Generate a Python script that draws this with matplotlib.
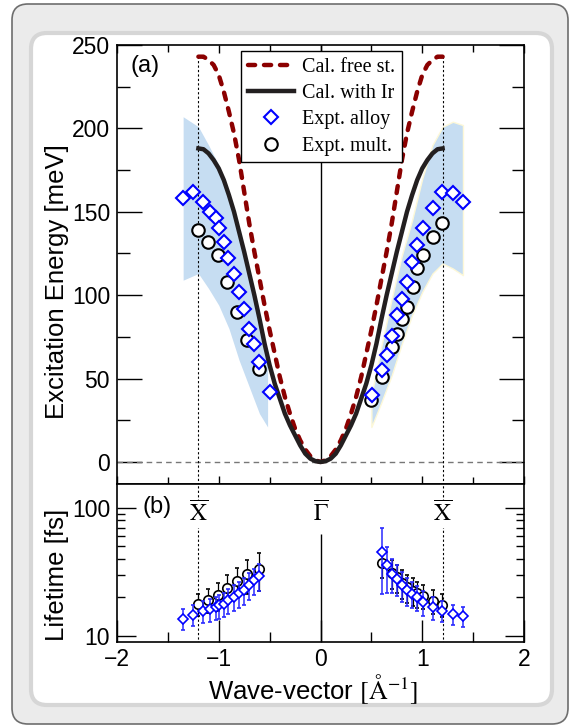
import matplotlib
matplotlib.use("Agg")
import matplotlib.pyplot as plt
from matplotlib.patches import FancyBboxPatch
from matplotlib.ticker import MultipleLocator, FixedLocator, NullFormatter, FormatStrFormatter

plt.rcParams['font.family'] = ['Liberation Sans', 'DejaVu Sans']
plt.rcParams['mathtext.fontset'] = 'stix'

# calculated dispersions (positive side, mirrored for negative q)
q_calc = [0.0, 0.05, 0.1, 0.15, 0.2, 0.25, 0.3, 0.35, 0.4, 0.45, 0.5, 0.55, 0.6,
          0.65, 0.7, 0.75, 0.8, 0.85, 0.9, 0.95, 1.0, 1.05, 1.1, 1.15, 1.2]
e_free = [0, 1, 3.5, 7.5, 13, 20, 29, 39, 51, 65, 79, 94, 110,
          126, 143, 162, 181, 197, 210, 222, 232, 238, 241, 243, 243]
e_ir = [0, 0.5, 2, 5, 10, 16, 22, 29, 38, 47, 58, 71, 86,
        100, 113, 126, 138, 150, 160, 169, 176, 181, 185, 187.5, 188]

# shaded uncertainty bands
band_l_q = [-1.35, -1.2, -1.1, -1.0, -0.9, -0.8, -0.7, -0.6, -0.52]
band_l_hi = [207, 201, 190, 178, 157, 135, 111, 85, 60]
band_l_lo = [109, 113, 104, 94, 80, 61, 45, 29, 21]
band_r_q = [0.5, 0.6, 0.7, 0.8, 0.9, 1.0, 1.1, 1.2, 1.3, 1.4]
band_r_hi = [40, 70, 98, 124, 145, 170, 190, 201, 204, 202]
band_r_lo = [21, 36, 52, 71, 88, 102, 113, 119, 116, 112]

# (a) excitation energies
alloy_q = [-1.354, -1.25, -1.152, -1.086, -1.027, -0.995, -0.945, -0.906, -0.85, -0.80,
           -0.752, -0.70, -0.654, -0.60, -0.496,
           0.503, 0.601, 0.651, 0.70, 0.749, 0.798, 0.853, 0.902, 0.951, 1.004,
           1.103, 1.191, 1.299, 1.403]
alloy_e = [158, 162, 156, 150, 146, 140, 132, 122, 113, 102, 92, 80, 71, 60, 42,
           40, 55, 64, 75.5, 88, 97.5, 108, 120, 130, 140, 152, 162, 161.5, 156]
mult_q = [-1.2, -1.11, -1.01, -0.915, -0.82, -0.72, -0.60,
          0.493, 0.601, 0.70, 0.749, 0.798, 0.853, 0.906, 0.951, 1.010, 1.103, 1.191]
mult_e = [139, 132, 124, 108, 90, 73, 56,
          37, 51, 69, 77, 85.5, 93, 105, 116.5, 124, 135, 143]

# (b) lifetimes
tau_alloy_q = [-1.354, -1.25, -1.152, -1.086, -1.027, -0.995, -0.945, -0.906, -0.85, -0.80,
               -0.752, -0.70, -0.654, -0.60,
               0.601, 0.651, 0.70, 0.749, 0.798, 0.853, 0.902, 0.951, 1.004,
               1.103, 1.191, 1.299, 1.403]
tau_alloy = [13.5, 14.6, 15.5, 16.0, 16.7, 17.2, 17.8, 18.9, 20.1, 21.5, 22.9, 24.8, 27.1, 29.2,
             45, 35.6, 30.6, 27.9, 24.8, 22.6, 21.3, 20.0, 18.3, 16.7, 15.7, 14.8, 14.1]
tau_alloy_err = [2.5, 2.7, 3.0, 3.2, 3.4, 3.6, 3.9, 4.2, 4.6, 5.0, 5.4, 5.9, 6.4, 7.0,
                 24, 14, 9, 7.5, 6.5, 5.5, 5.0, 4.5, 4.0, 3.5, 3.0, 2.7, 2.5]
tau_mult_q = [-1.2, -1.11, -1.01, -0.915, -0.82, -0.72, -0.60,
              0.601, 0.70, 0.749, 0.798, 0.853, 0.906, 0.951, 1.010, 1.103, 1.191]
tau_mult = [17.8, 19.1, 20.6, 23.7, 26.8, 30.2, 33.5,
            37, 31, 28.5, 26, 24, 22.5, 21.5, 20.5, 18.8, 17.5]
tau_mult_err = [3.5, 4, 5, 6, 7, 9, 11,
                9, 8, 7, 6.5, 6, 5.5, 5, 4.5, 4, 3.5]

W, H = 575, 726
fig = plt.figure(figsize=(W / 100, H / 100), dpi=100)

# background frame
bg = fig.add_axes([0, 0, 1, 1], zorder=-10)
bg.set_xlim(0, W)
bg.set_ylim(H, 0)
bg.axis('off')
bg.add_patch(FancyBboxPatch((12, 4), 556, 720, boxstyle="round,pad=0,rounding_size=16",
                            fc='#ebebeb', ec='#6e6e6e', lw=1.2))
bg.add_patch(FancyBboxPatch((31, 33), 521, 672, boxstyle="round,pad=0,rounding_size=16",
                            fc='white', ec='#d6d6d6', lw=3))

axl, axw = 117 / W, 407 / W
ax1 = fig.add_axes([axl, 1 - 484 / H, axw, 439 / H])
ax2 = fig.add_axes([axl, 1 - 642 / H, axw, 158 / H])

q_full = [-v for v in reversed(q_calc)] + q_calc[1:]
free_full = list(reversed(e_free)) + e_free[1:]
ir_full = list(reversed(e_ir)) + e_ir[1:]

ax1.fill_between(band_l_q, band_l_lo, band_l_hi, color='#c6ddf2', lw=0, zorder=1)
ax1.fill_between(band_r_q, band_r_lo, band_r_hi, color='#c6ddf2', ec='#fdf8d8', lw=1, zorder=1)
ax1.axhline(0, color='#777777', lw=1, dashes=(4, 3), zorder=2)
ax1.vlines([-1.2, 1.2], -14, 244, color='black', lw=0.8, linestyles=(0, (2, 2)), zorder=2)
ax1.vlines([0], 0, 250, color='black', lw=1, zorder=2)
ax1.plot(q_full, free_full, color='#8b0000', lw=3.2, dashes=(1.6, 2.0),
         dash_capstyle='round', label='Cal. free st.', zorder=3)
ax1.plot(q_full, ir_full, color='#231f20', lw=3.2, label='Cal. with Ir', zorder=3)
ax1.plot(alloy_q, alloy_e, 'D', ms=7.2, mfc='white', mec='#0000ff', mew=1.5,
         label='Expt. alloy', zorder=5)
ax1.plot(mult_q, mult_e, 'o', ms=9, mfc='white', mec='black', mew=1.5,
         label='Expt. mult.', zorder=4)

ax1.set_xlim(-2, 2)
ax1.set_ylim(-13.2, 250)
ax1.xaxis.set_major_locator(MultipleLocator(1))
ax1.xaxis.set_minor_locator(MultipleLocator(0.5))
ax1.yaxis.set_major_locator(MultipleLocator(50))
ax1.yaxis.set_minor_locator(MultipleLocator(25))
ax1.tick_params(which='both', direction='in', top=True, right=True, labelbottom=False,
                labelsize=16.5, width=1)
ax1.tick_params(axis='y', which='major', length=18, pad=5)
ax1.tick_params(axis='y', which='minor', length=9)
ax1.tick_params(axis='x', which='major', length=6)
ax1.tick_params(axis='x', which='minor', length=5)
ax1.set_ylabel('Excitation Energy [meV]', fontsize=18.5)
ax1.yaxis.set_label_coords(-0.118, 0.462)
ax1.text(0.069, 0.952, '(a)', transform=ax1.transAxes, fontsize=17, ha='center', va='center')

leg = ax1.legend(loc='upper left', bbox_to_anchor=(0.305, 0.986), borderaxespad=0,
                 prop={'family': 'Liberation Serif', 'size': 14.5},
                 frameon=True, fancybox=False, framealpha=1, edgecolor='black',
                 handlelength=2.3, handletextpad=0.4, labelspacing=0.36, borderpad=0.32)
leg.get_frame().set_linewidth(1)
leg.set_zorder(10)

# (b)
ax2.errorbar(tau_mult_q, tau_mult, yerr=tau_mult_err, fmt='o', ms=6.8, mfc='white', mec='black',
             mew=1.2, ecolor='black', elinewidth=0.9, capsize=1.5, zorder=4)
ax2.errorbar(tau_alloy_q, tau_alloy, yerr=tau_alloy_err, fmt='D', ms=5.2, mfc='white',
             mec='#0000ff', mew=1.2, ecolor='#2a2aff', elinewidth=1.1, capsize=1.5, zorder=5)
ax2.vlines([-1.2, 1.2], 8, 160, color='black', lw=0.8, linestyles=(0, (2, 2)), zorder=2)
ax2.vlines([0], 8, 62, color='black', lw=1, zorder=2)
bbox = dict(fc='white', ec='none', pad=1)
ax2.text(-1.2, 90, r'$\overline{\mathrm{X}}$', fontsize=17, ha='center', va='center', bbox=bbox)
ax2.text(1.2, 90, r'$\overline{\mathrm{X}}$', fontsize=17, ha='center', va='center', bbox=bbox)
ax2.text(0, 90, r'$\overline{\Gamma}$', fontsize=17, ha='center', va='center', bbox=bbox)
ax2.text(0.098, 0.854, '(b)', transform=ax2.transAxes, fontsize=17, ha='center', va='center')

ax2.set_yscale('log')
ax2.set_xlim(-2, 2)
ax2.set_ylim(8.9, 154)
ax2.xaxis.set_major_locator(MultipleLocator(1))
ax2.xaxis.set_minor_locator(MultipleLocator(0.5))
ax2.yaxis.set_major_locator(FixedLocator([10, 100]))
ax2.yaxis.set_major_formatter(FormatStrFormatter('%d'))
ax2.yaxis.set_minor_locator(FixedLocator([20, 30, 40, 50, 60, 70, 80, 90]))
ax2.yaxis.set_minor_formatter(NullFormatter())
ax2.tick_params(which='both', direction='in', top=False, right=True, labelsize=16.5, width=1)
ax2.tick_params(axis='y', which='major', length=14, pad=5)
ax2.tick_params(axis='y', which='minor', length=6)
ax2.tick_params(axis='x', which='major', length=16, pad=4)
ax2.tick_params(axis='x', which='minor', length=7)
ax2.set_ylabel('Lifetime [fs]', fontsize=18.5)
ax2.yaxis.set_label_coords(-0.118, 0.424)
ax2.set_xlabel(r'Wave-vector $[\mathrm{\AA}^{-1}]$', fontsize=18.5)
ax2.xaxis.set_label_coords(0.483, -0.19)

for ax in (ax1, ax2):
    for s in ax.spines.values():
        s.set_linewidth(1.2)

fig.savefig('out.png', dpi=100)
